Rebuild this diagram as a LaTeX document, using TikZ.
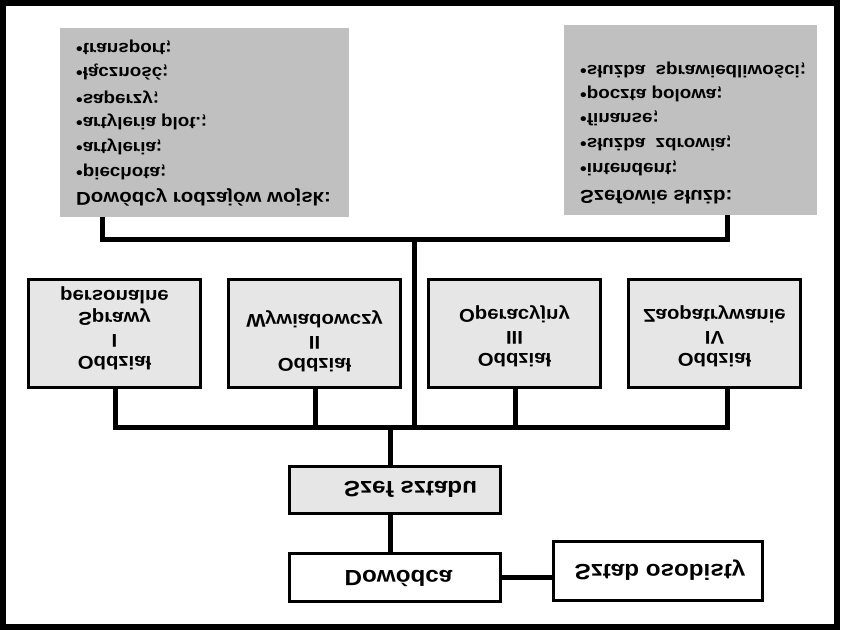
\documentclass[tikz,border=0pt]{standalone}
\usepackage{fontspec}
\setmainfont{Liberation Sans}[FakeStretch=1.1]
\definecolor{listgray}{RGB}{192,192,192}
\definecolor{boxgray}{RGB}{230,230,230}
\begin{document}
\begin{tikzpicture}[x=1pt,y=-1pt,
  frame/.style={draw=black,line width=3pt,inner sep=0pt,outer sep=0pt},
  listbox/.style={fill=listgray,inner sep=0pt,outer sep=0pt},
  conn/.style={line width=5pt,line cap=rect},
  flip/.style={yscale=-1,inner sep=0pt},
  bigtxt/.style={flip,font=\bfseries\fontsize{22}{26}\selectfont},
  odtxt/.style={flip,align=center,font=\bfseries\fontsize{18.5}{22}\selectfont},
  headtxt/.style={flip,anchor=west,font=\bfseries\fontsize{18.6}{22}\selectfont},
  itemtxt/.style={flip,anchor=west,font=\bfseries\fontsize{17.1}{20}\selectfont}]
\useasboundingbox (0,0) rectangle (842,630);
\draw[line width=6pt] (2.5,2.5) rectangle (836.5,627);
% list boxes
\node[listbox,minimum width=289pt,minimum height=189pt] (llist) at (204.5,122.5) {};
\node[listbox,minimum width=253pt,minimum height=190pt] (rlist) at (690.5,120) {};
% left list text
\node[itemtxt] (l1) at (76,47) {•transport;};
\node[itemtxt] (l2) at (76,72) {•łączność;};
\node[itemtxt] (l3) at (76,97) {•saperzy;};
\node[itemtxt] (l4) at (76,122) {•artyleria plot.;};
\node[itemtxt] (l5) at (76,147) {•artyleria;};
\node[itemtxt] (l6) at (76,172) {•piechota;};
\node[headtxt] (lh) at (76,197) {Dowódcy rodzajów wojsk:};
% right list text
\node[itemtxt] (r1) at (580,70) {•służba\hspace{0.3em} sprawiedliwości;};
\node[itemtxt] (r2) at (580,94) {•poczta polowa;};
\node[itemtxt] (r3) at (580,118) {•finanse;};
\node[itemtxt] (r4) at (580,143) {•służba\hspace{0.3em} zdrowia;};
\node[itemtxt] (r5) at (580,168) {•intendent;};
\node[headtxt] (rh) at (580,197) {Szefowie służb:};
% department boxes
\node[frame,fill=boxgray,minimum width=172pt,minimum height=108pt] (o1) at (114.5,333.5) {};
\node[frame,fill=boxgray,minimum width=172pt,minimum height=108pt] (o2) at (314.5,333.5) {};
\node[frame,fill=boxgray,minimum width=172pt,minimum height=108pt] (o3) at (514.5,333.5) {};
\node[frame,fill=boxgray,minimum width=172pt,minimum height=108pt] (o4) at (714.5,333.5) {};
\node[odtxt] (t1) at (114.5,328.5) {Oddział\\I\\Sprawy\\personalne};
\node[odtxt] (t2) at (314.5,341) {Oddział\\II\\Wywiadowczy};
\node[odtxt] (t3) at (514.5,336.5) {Oddział\\III\\Operacyjny};
\node[odtxt] (t4) at (714.5,336.5) {Oddział\\IV\\Zaopatrywanie};
% lower boxes
\node[frame,fill=boxgray,minimum width=211pt,minimum height=47pt] (szef) at (395,490) {};
\node[frame,fill=white,minimum width=211pt,minimum height=48pt] (dow) at (395,577.5) {};
\node[frame,fill=white,minimum width=209pt,minimum height=59pt] (sztab) at (658,571) {};
\node[bigtxt] (ts) at (410.5,489) {Szef sztabu};
\node[bigtxt] (td) at (398.5,578) {Dowódca};
\node[bigtxt] (tz) at (660,570) {Sztab osobisty};
% connectors
\coordinate (a1) at (102.5,239.5);
\coordinate (a2) at (727.5,239.5);
\coordinate (j1) at (414.5,239.5);
\coordinate (j2) at (414.5,427);
\coordinate (b1) at (115,427);
\coordinate (b4) at (727,427);
\coordinate (j3) at (390,427);
\draw[conn,line cap=butt] (llist.south -| a1) -- (a1) -- (a2) -- (rlist.south -| a2);
\draw[conn,line cap=butt] (j1) -- (j2);
\draw[conn,line cap=butt] (o1.south -| b1) -- (b1) -- (b4) -- (o4.south -| b4);
\draw[conn,line cap=butt] (o2.south -| 315,0) -- (315,427);
\draw[conn,line cap=butt] (o3.south -| 515,0) -- (515,427);
\draw[conn,line cap=butt] (j3) -- (szef.north -| j3);
\draw[conn,line cap=butt] (szef.south -| j3) -- (dow.north -| j3);
\draw[conn,line cap=butt] (dow.east) -- (dow.east -| sztab.west);
\end{tikzpicture}
\end{document}
